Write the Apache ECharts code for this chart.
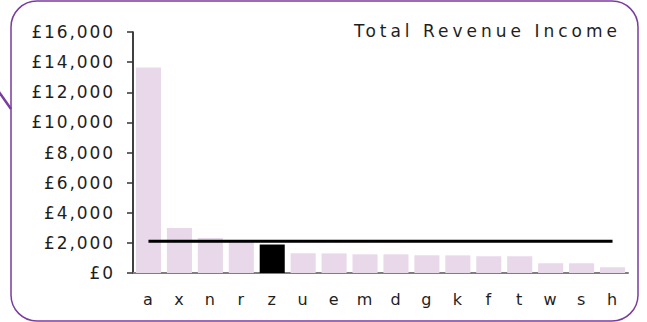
<!DOCTYPE html>
<html>
<head>
<meta charset="utf-8">
<script src="https://cdn.jsdelivr.net/npm/echarts@6/dist/echarts.min.js"></script>
<style>
  html, body { margin: 0; padding: 0; background: #ffffff; }
  #chart { width: 647px; height: 322px; }
  #chart svg text { letter-spacing: 1px; }
</style>
</head>
<body>
<div id="chart"></div>
<script>
// Revenue per organisation, sorted descending
const categories = ['a', 'x', 'n', 'r', 'z', 'u', 'e', 'm', 'd', 'g', 'k', 'f', 't', 'w', 's', 'h'];
const revenue = [13650, 2980, 2320, 2080, 1890, 1310, 1300, 1240, 1240, 1175, 1170, 1110, 1110, 645, 645, 380];
const benchmark = [2100, 2100, 2100, 2100, 2100, 2100, 2100, 2100, 2100, 2100, 2100, 2100, 2100, 2100, 2100, 2100];
const highlighted = 'z';
const yTicks = [0, 2000, 4000, 6000, 8000, 10000, 12000, 14000, 16000];
const chartTitle = 'Total Revenue Income';

const FONT = 'DejaVu Sans';
const PURPLE = '#7a3d9e';
const TEXT = '#1e1e1e';

const chart = echarts.init(document.getElementById('chart'), null, { renderer: 'svg' });

const barData = revenue.map((v, i) => ({
  value: v,
  itemStyle: { color: categories[i] === highlighted ? '#000000' : '#e9d7ea' }
}));

// Wider tracking for the title and money labels than for the category letters
function applyTracking() {
  document.querySelectorAll('#chart svg text').forEach(t => {
    const s = t.textContent;
    if (s === chartTitle) t.style.letterSpacing = '4px';
    else if (s.charAt(0) === '£') t.style.letterSpacing = '1.9px';
  });
}

chart.on('finished', applyTracking);

chart.setOption({
  animation: false,
  backgroundColor: '#ffffff',
  graphic: [
    {
      type: 'rect',
      shape: { x: 11, y: 1, width: 627, height: 320, r: 26 },
      style: { fill: 'none', stroke: PURPLE, lineWidth: 1.5 },
      z: -1
    },
    {
      type: 'line',
      shape: { x1: -1, y1: 92, x2: 11, y2: 109 },
      style: { stroke: PURPLE, lineWidth: 2.5 }
    },
    {
      type: 'text',
      x: 621,
      y: 22,
      style: {
        text: chartTitle,
        textAlign: 'right',
        textVerticalAlign: 'top',
        fontFamily: FONT,
        fontSize: 17,
        fill: TEXT
      }
    }
  ],
  grid: { left: 133, right: 19, top: 32, bottom: 49 },
  xAxis: {
    type: 'category',
    data: categories,
    axisLine: { lineStyle: { color: '#7f7f7f', width: 2 } },
    axisTick: { show: false },
    axisLabel: { fontFamily: FONT, fontSize: 16, color: TEXT, margin: 18 }
  },
  yAxis: {
    type: 'value',
    min: yTicks[0],
    max: yTicks[yTicks.length - 1],
    interval: 2000,
    axisLine: { show: true, lineStyle: { color: '#000000', width: 1.5 } },
    axisTick: { show: true, length: 6, lineStyle: { color: '#333333', width: 1.5 } },
    splitLine: { show: false },
    axisLabel: {
      fontFamily: FONT, fontSize: 17, color: TEXT, margin: 18,
      formatter: v => '£' + v.toLocaleString('en-GB')
    }
  },
  series: [
    {
      type: 'bar',
      data: barData,
      barCategoryGap: '19%'
    },
    {
      type: 'line',
      data: benchmark,
      symbol: 'none',
      lineStyle: { color: '#000000', width: 3 },
      z: 5
    }
  ]
});
applyTracking();
</script>
</body>
</html>
